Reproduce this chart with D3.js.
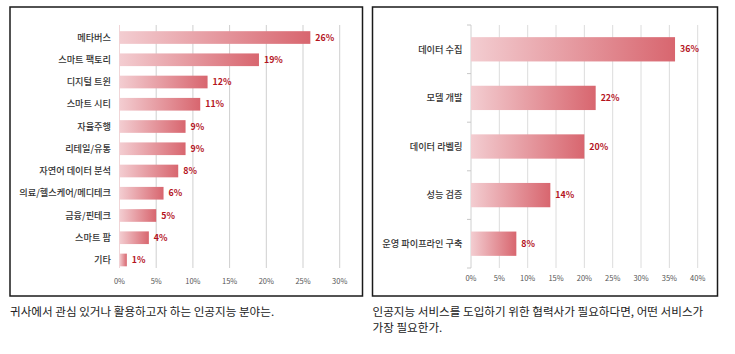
<!DOCTYPE html>
<html>
<head>
<meta charset="utf-8">
<script src="https://cdn.jsdelivr.net/npm/d3@7"></script>
<style>
  body { margin: 0; background: #fff; }
  svg { display: block; font-family: "Noto Sans CJK KR", "Noto Sans", sans-serif; }
</style>
</head>
<body>
<svg id="chart" width="735" height="354"></svg>
<script>
// left chart
const fieldNames = ['메타버스', '스마트 팩토리', '디지털 트윈', '스마트 시티', '자율주행', '리테일/유통',
  '자연어 데이터 분석', '의료/헬스케어/메디테크', '금융/핀테크', '스마트 팜', '기타'];
const fieldValues = [26, 19, 12, 11, 9, 9, 8, 6, 5, 4, 1];
const fieldTicks = [0, 5, 10, 15, 20, 25, 30];
const fieldCaption = ['귀사에서 관심 있거나 활용하고자 하는 인공지능 분야는.'];

// right chart
const serviceNames = ['데이터 수집', '모델 개발', '데이터 라벨링', '성능 검증', '운영 파이프라인 구축'];
const serviceValues = [36, 22, 20, 14, 8];
const serviceTicks = [0, 5, 10, 15, 20, 25, 30, 35, 40];
const serviceCaption = ['인공지능 서비스를 도입하기 위한 협력사가 필요하다면, 어떤 서비스가', '가장 필요한가.'];

const svg = d3.select('#chart');

const defs = svg.append('defs');
const grad = defs.append('linearGradient').attr('id', 'barGrad')
  .attr('x1', '0%').attr('x2', '100%').attr('y1', '0%').attr('y2', '0%');
grad.append('stop').attr('offset', '0%').attr('stop-color', '#f3cdd1');
grad.append('stop').attr('offset', '100%').attr('stop-color', '#d8666f');

function drawPanel(opts) {
  const g = svg.append('g');

  g.append('rect')
    .attr('x', opts.box[0]).attr('y', opts.box[1])
    .attr('width', opts.box[2]).attr('height', opts.box[3])
    .attr('fill', 'none').attr('stroke', '#1a1a1a').attr('stroke-width', 1.5);

  const x = d3.scaleLinear().domain([0, opts.max]).range([opts.x0, opts.x1]);
  const y = d3.scaleBand().domain(opts.names).range([opts.y0, opts.y1]).paddingInner(opts.pad).paddingOuter(opts.pad / 2);

  // grid lines
  g.selectAll('.grid').data(opts.ticks.slice(1)).join('line')
    .attr('x1', (d) => x(d)).attr('x2', (d) => x(d))
    .attr('y1', opts.gridTop).attr('y2', opts.gridBottom)
    .attr('stroke', opts.gridColor).attr('stroke-width', 1);

  // axis line
  g.append('line')
    .attr('x1', x(0)).attr('x2', x(0)).attr('y1', opts.gridTop).attr('y2', opts.gridBottom)
    .attr('stroke', opts.axisColor).attr('stroke-width', 1);

  if (opts.bandTicks) {
    const bounds = opts.names.map((n) => y(n) - y.step() * y.paddingInner() / 2);
    bounds.push(opts.y1);
    g.selectAll('.btick').data(bounds).join('line')
      .attr('x1', x(0) - 4).attr('x2', x(0))
      .attr('y1', (d) => d).attr('y2', (d) => d)
      .attr('stroke', '#c8c8c8');
  }

  // tick labels
  g.selectAll('.tlabel').data(opts.ticks).join('text')
    .attr('x', (d) => x(d)).attr('y', opts.tickY)
    .attr('text-anchor', 'middle')
    .attr('font-size', 7.5).attr('fill', '#555')
    .text((d) => d + '%');

  // bars
  g.selectAll('.bar').data(opts.values).join('rect')
    .attr('x', x(0))
    .attr('y', (d, i) => y(opts.names[i]))
    .attr('width', (d) => x(d) - x(0))
    .attr('height', y.bandwidth())
    .attr('fill', 'url(#barGrad)');

  // category labels
  g.selectAll('.clabel').data(opts.names).join('text')
    .attr('x', opts.labelX)
    .attr('y', (d) => y(d) + y.bandwidth() / 2)
    .attr('dy', '0.35em')
    .attr('text-anchor', 'end')
    .attr('font-size', 9.2).attr('font-weight', 500).attr('fill', '#333')
    .text((d) => d);

  // value labels
  g.selectAll('.vlabel').data(opts.values).join('text')
    .attr('x', (d) => x(d) + 5)
    .attr('y', (d, i) => y(opts.names[i]) + y.bandwidth() / 2)
    .attr('dy', '0.35em')
    .attr('font-size', 8.8).attr('font-weight', 700).attr('fill', '#b4141e')
    .text((d) => d + '%');

  // caption
  g.selectAll('.cap').data(opts.caption).join('text')
    .attr('x', opts.box[0]).attr('y', (d, i) => opts.capY + i * 16)
    .attr('font-size', 11.6).attr('fill', '#222')
    .text((d) => d);
}

drawPanel({
  box: [10, 7, 352.5, 289],
  names: fieldNames, values: fieldValues, ticks: fieldTicks, max: 30,
  x0: 119.5, x1: 339.7, y0: 26.4, y1: 271.1, pad: 0.43,
  gridTop: 25, gridBottom: 268, gridColor: '#cfcfcf', axisColor: '#f0d6d8',
  tickY: 284, labelX: 111, bandTicks: false,
  caption: fieldCaption, capY: 316
});

drawPanel({
  box: [372.5, 7, 345, 289],
  names: serviceNames, values: serviceValues, ticks: serviceTicks, max: 40,
  x0: 471, x1: 697.7, y0: 25, y1: 268, pad: 0.5,
  gridTop: 25, gridBottom: 268, gridColor: '#dcdcdc', axisColor: '#d0d0d0',
  tickY: 281, labelX: 462.5, bandTicks: true,
  caption: serviceCaption, capY: 316
});
</script>
</body>
</html>
